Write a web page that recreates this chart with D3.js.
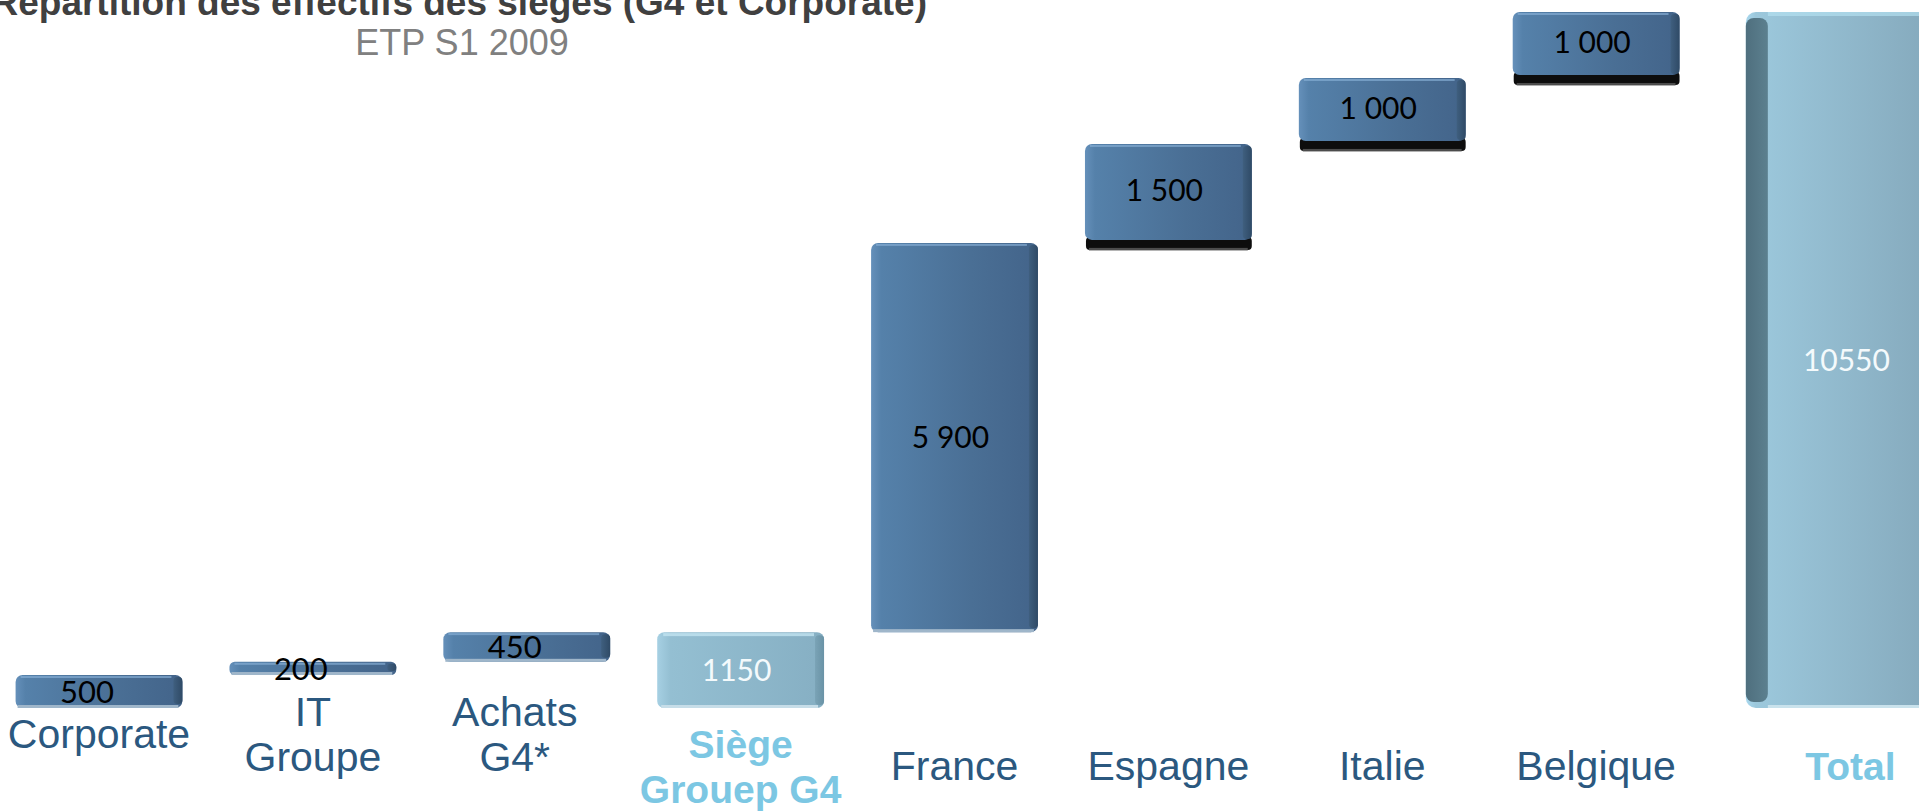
<!DOCTYPE html>
<html lang="fr">
<head>
<meta charset="utf-8">
<script src="https://cdn.jsdelivr.net/npm/d3@7"></script>
<style>
  body { margin: 0; background: #fff; overflow: hidden; }
  svg { display: block; }
</style>
</head>
<body>
<div id="chart"></div>
<script>
// données du graphique
const categories = ["Corporate", "IT Groupe", "Achats G4*", "Siège Grouep G4", "France", "Espagne", "Italie", "Belgique", "Total"];
const labelLines = [["Corporate"], ["IT", "Groupe"], ["Achats", "G4*"], ["Siège", "Grouep G4"], ["France"], ["Espagne"], ["Italie"], ["Belgique"], ["Total"]];
const values = [500, 200, 450, 1150, 5900, 1500, 1000, 1000, 10550];
const valueLabels = ["500", "200", "450", "1150", "5 900", "1 500", "1 000", "1 000", "10550"];
const isTotal = [false, false, false, true, false, false, false, false, true];

const width = 1919;
const height = 812;

// cumul façon cascade
let running = 0;
const bars = categories.map((c, i) => {
    let start, end;
    if (isTotal[i]) {
        start = 0;
        end = values[i];
    } else {
        start = running;
        end = running + values[i];
    }
    running = end;
    return { cat: c, i: i, start: start, end: end, total: isTotal[i], label: valueLabels[i], lines: labelLines[i] };
});

const x = d3.scalePoint().domain(categories).range([99, 1810]);
const y = d3.scaleLinear().domain([0, d3.max(values)]).range([708, 12]);
const step = x.step();
const lastIdx = bars.length - 1;

// géométrie horizontale d'une barre (la dernière déborde à droite)
function barX(d) {
    const cx = x(d.cat);
    if (d.i === lastIdx) return { x0: cx - step * 0.3, w: width - (cx - step * 0.3) + 20 };
    const w = step * 0.78;
    return { x0: cx - w / 2, w: w };
}
function labelX(d) {
    if (d.i === lastIdx) {
        const b = barX(d);
        return (b.x0 + width) / 2 + 18;
    }
    return x(d.cat);
}

const svg = d3.select("#chart")
    .append("svg")
    .attr("width", width)
    .attr("height", height);

const defs = svg.append("defs");

function hGradient(id, stops) {
    const g = defs.append("linearGradient").attr("id", id)
        .attr("x1", "0%").attr("x2", "100%").attr("y1", "0%").attr("y2", "0%");
    stops.forEach(s => g.append("stop").attr("offset", s[0]).attr("stop-color", s[1]));
}
hGradient("gDark", [["0%", "#6590ba"], ["6%", "#5581aa"], ["60%", "#4a6f95"], ["100%", "#43648a"]]);
hGradient("gDarkSide", [["0%", "#3f5f7f"], ["100%", "#2f4a66"]]);
hGradient("gLight", [["0%", "#a6d0e3"], ["8%", "#94bfd2"], ["100%", "#86afc3"]]);
hGradient("gLightSide", [["0%", "#7aa3b6"], ["100%", "#6a93a6"]]);
hGradient("gTotalSide", [["0%", "#4f6f7e"], ["100%", "#5c808f"]]);
hGradient("gTotal", [["0%", "#a9d8ee"], ["5%", "#9cc8dc"], ["100%", "#84a8bb"]]);

// titre
svg.append("text")
    .attr("x", 927).attr("y", 15)
    .attr("text-anchor", "end")
    .style("font-family", "'Liberation Sans', Arial, sans-serif")
    .style("font-weight", "bold")
    .style("font-size", "37px")
    .style("fill", "#404040")
    .text("Répartition des effectifs des sièges (G4 et Corporate)");

svg.append("text")
    .attr("x", 462).attr("y", 55)
    .attr("text-anchor", "middle")
    .style("font-family", "'Liberation Sans', Arial, sans-serif")
    .style("font-size", "36px")
    .style("fill", "#808080")
    .text("ETP S1 2009");

// barres
const g = svg.selectAll(".bar")
    .data(bars)
    .join("g")
    .attr("class", "bar")
    .each(function (d) {
        const el = d3.select(this);
        const b = barX(d);
        const x0 = b.x0, w = b.w;
        const y0 = y(d.end);
        const h = y(d.start) - y(d.end);

        if (d.i === lastIdx) {
            // grande barre total, face latérale à gauche
            el.append("rect").attr("x", x0).attr("y", y0).attr("width", w).attr("height", h)
                .attr("rx", 10).attr("fill", "url(#gTotal)");
            el.append("rect").attr("x", x0).attr("y", y0 + 6).attr("width", 22).attr("height", h - 12)
                .attr("rx", 8).attr("fill", "url(#gTotalSide)");
            el.append("rect").attr("x", x0 + 22).attr("y", y0).attr("width", w - 22).attr("height", 4)
                .attr("fill", "#b4dff0").attr("opacity", 0.7);
            el.append("rect").attr("x", x0 + 22).attr("y", y0 + h - 3).attr("width", w - 22).attr("height", 3)
                .attr("fill", "#c9e2ec");
        } else if (d.total) {
            el.append("rect").attr("x", x0).attr("y", y0).attr("width", w).attr("height", h)
                .attr("rx", 7).attr("fill", "url(#gLight)");
            el.append("rect").attr("x", x0 + w - 9).attr("y", y0 + 3).attr("width", 9).attr("height", h - 6)
                .attr("rx", 4).attr("fill", "url(#gLightSide)");
            el.append("rect").attr("x", x0 + 6).attr("y", y0 + 1).attr("width", w - 16).attr("height", 3)
                .attr("fill", "#c2e3f0").attr("opacity", 0.8);
            el.append("rect").attr("x", x0 + 4).attr("y", y0 + h - 3).attr("width", w - 10).attr("height", 3)
                .attr("fill", "#c6dde8");
        } else {
            // ombre noire sous les barres hautes
            if (d.i > 4) {
                el.append("rect").attr("x", x0 + 1).attr("y", y0 + h - 6).attr("width", w - 1).attr("height", 13)
                    .attr("rx", 4).attr("fill", "#0d0d0d");
                el.append("rect").attr("x", x0 + 4).attr("y", y0 + h + 5).attr("width", w - 8).attr("height", 3)
                    .attr("fill", "#777").attr("opacity", 0.6);
            }
            el.append("rect").attr("x", x0).attr("y", y0).attr("width", w).attr("height", h - (d.i > 4 ? 3 : 0))
                .attr("rx", Math.min(7, h / 2.5)).attr("fill", "url(#gDark)");
            el.append("rect").attr("x", x0 + w - 9).attr("y", y0 + 2).attr("width", 9).attr("height", Math.max(h - 6, 2))
                .attr("rx", Math.min(4, h / 4)).attr("fill", "url(#gDarkSide)");
            el.append("rect").attr("x", x0 + 5).attr("y", y0 + 1).attr("width", w - 16).attr("height", 2)
                .attr("fill", "#86aed4").attr("opacity", 0.7);
            if (d.i <= 4) {
                el.append("rect").attr("x", x0 + 2).attr("y", y0 + h - 3).attr("width", w - 6).attr("height", 3)
                    .attr("fill", "#9fb6ca");
            }
        }
    });

// étiquettes de valeur
g.append("text")
    .attr("x", d => labelX(d) - (d.i < 3 ? 12 : 4))
    .attr("y", d => (y(d.start) + y(d.end)) / 2 - (d.i > 4 && !d.total ? 3 : 0))
    .attr("dy", "0.36em")
    .attr("text-anchor", "middle")
    .style("font-family", "Lato, 'Open Sans', sans-serif")
    .style("font-size", d => d.i < 3 ? "31px" : "30px")
    .style("fill", d => d.total ? "#f4fafc" : "#000")
    .text(d => d.label);

// libellés des catégories
const labels = svg.selectAll(".cat")
    .data(bars)
    .join("text")
    .attr("class", "cat")
    .attr("text-anchor", "middle")
    .style("font-family", "'Liberation Sans', Arial, sans-serif")
    .style("font-size", d => d.total ? "39px" : "41px")
    .style("font-weight", d => d.total ? "bold" : "normal")
    .style("fill", d => d.total ? "#7cc7e3" : "#2b587f");

labels.each(function (d) {
    const lineH = 45;
    const center = d.i < 3 ? 734 : 766;
    const first = center + 14 - (d.lines.length - 1) * lineH / 2;
    d3.select(this).selectAll("tspan")
        .data(d.lines)
        .join("tspan")
        .attr("x", labelX(d) + (d.i === 2 ? -12 : 0))
        .attr("y", (l, k) => first + k * lineH)
        .text(l => l);
});
</script>
</body>
</html>
